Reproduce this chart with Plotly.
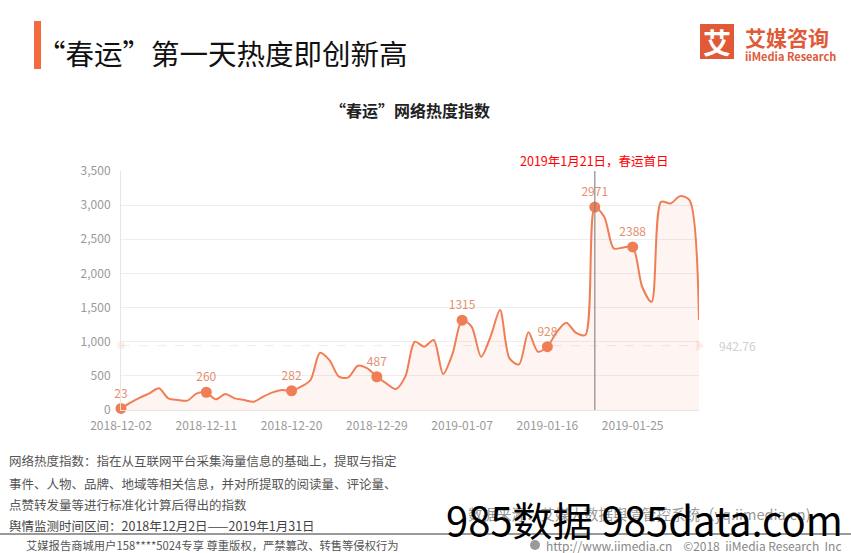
import plotly.graph_objects as go
import pandas as pd

# ---- data ----
dates = pd.date_range("2018-12-02", "2019-02-01", freq="D").strftime("%Y-%m-%d").tolist()
values = [23, 107, 180, 244, 317, 170, 146, 137, 244, 260,
          156, 234, 170, 146, 122, 195, 258, 292, 282, 341,
          439, 838, 731, 488, 478, 648, 609, 487, 390, 307,
          488, 1000, 927, 1025, 527, 829, 1315, 1220, 780, 1073,
          1463, 756, 668, 1137, 854, 928, 1146, 1278, 1132, 1098,
          2971, 2829, 2366, 2380, 2388, 1805, 1585, 3049, 3024, 3132,
          3073, 1317]
label_idx = [0, 9, 18, 27, 36, 45, 50, 54]
avg_value = 942.76
event_date = "2019-01-21"
event_text = "2019年1月21日，春运首日"
tick_dates = ["2018-12-02", "2018-12-11", "2018-12-20", "2018-12-29",
              "2019-01-07", "2019-01-16", "2019-01-25"]
y_ticks = [0, 500, 1000, 1500, 2000, 2500, 3000, 3500]

title_text = "“春运”第一天热度即创新高"
chart_title = "“春运”网络热度指数"
notes = ["网络热度指数：指在从互联网平台采集海量信息的基础上，提取与指定",
         "事件、人物、品牌、地域等相关信息，并对所提取的阅读量、评论量、",
         "点赞转发量等进行标准化计算后得出的指数",
         "舆情监测时间区间：2018年12月2日——2019年1月31日"]
footer_left = "艾媒报告商城用户158****5024专享 尊重版权，严禁篡改、转售等侵权行为"
footer_right = "http://www.iimedia.cn    ©2018  iiMedia Research  Inc"
source_text = "数据来源：艾媒大数据舆情管控系统（yq.iimedia.cn)"
watermark = "985数据 985data.com"

FONT = "Noto Sans CJK SC"
W, H = 851, 553
PX0, PX1, PY0, PY1 = 121, 699, 171, 410  # plot area in pixels


def px(x):
    return (x - PX0) / (PX1 - PX0)


def py(y):
    return (PY1 - y) / (PY1 - PY0)


def note(x, y, text, size, color, anchor="left"):
    fig.add_annotation(x=px(x), y=py(y), xref="paper", yref="paper", text=text,
                       showarrow=False, xanchor=anchor, yanchor="middle",
                       font=dict(family=FONT, size=size, color=color))


LINE = "#f07e55"

fig = go.Figure()
fig.add_trace(go.Scatter(
    x=dates, y=values, mode="lines",
    line=dict(color=LINE, width=2, shape="spline", smoothing=0.8),
    fill="tozeroy", fillcolor="rgba(247,130,95,0.09)",
    hoverinfo="skip", showlegend=False, cliponaxis=False))

fig.add_trace(go.Scatter(
    x=[dates[i] for i in label_idx], y=[values[i] for i in label_idx],
    mode="markers+text", text=[str(values[i]) for i in label_idx],
    textposition="top center",
    textfont=dict(family=FONT, size=12, color="#e3906f"),
    marker=dict(size=11, color=LINE),
    showlegend=False, cliponaxis=False))

# average mark line
fig.add_trace(go.Scatter(
    x=[dates[0], dates[-1]], y=[avg_value, avg_value], mode="lines",
    line=dict(color="rgba(240,126,85,0.18)", width=1, dash="dash"),
    hoverinfo="skip", showlegend=False))
fig.add_trace(go.Scatter(
    x=[dates[0]], y=[avg_value], mode="markers",
    marker=dict(size=8, color="rgba(240,126,85,0.12)"),
    hoverinfo="skip", showlegend=False, cliponaxis=False))
fig.add_trace(go.Scatter(
    x=[dates[-1]], y=[avg_value], mode="markers",
    marker=dict(size=10, color="rgba(240,126,85,0.15)", symbol="triangle-right"),
    hoverinfo="skip", showlegend=False, cliponaxis=False))

fig.add_annotation(x=px(717), y=avg_value, xref="paper", yref="y",
                   text=f"{avg_value:.2f}", showarrow=False, xanchor="left", yanchor="middle",
                   font=dict(family=FONT, size=12, color="#cfcfcf"))

# event line
fig.add_shape(type="line", x0=event_date, x1=event_date, y0=0, y1=3500,
              xref="x", yref="y", line=dict(color="rgba(130,130,130,0.75)", width=1.5))
fig.add_annotation(x=event_date, y=py(160), xref="x", yref="paper", text=event_text,
                   showarrow=False, xanchor="center", yanchor="middle",
                   font=dict(family=FONT, size=12.5, color="#ff0000"))

# page title and decorations
fig.add_shape(type="rect", xref="paper", yref="paper",
              x0=px(34), x1=px(41), y0=py(69), y1=py(21),
              fillcolor="#f26a3d", line=dict(width=0))
note(35, 52, title_text, 28.5, "#111111")
note(410, 110, "<b>" + chart_title + "</b>", 16, "#222222", anchor="center")

# logo
fig.add_shape(type="rect", xref="paper", yref="paper",
              x0=px(700), x1=px(734), y0=py(59), y1=py(24),
              fillcolor="#e05a38", line=dict(width=0))
note(717, 42, "<b>艾</b>", 28, "white", anchor="center")
note(743, 37, "<b>艾媒咨询</b>", 21, "#e05a38")
note(743, 56, "<b>iiMedia Research</b>", 11, "#e05a38")

# notes
for i, (t, yy) in enumerate(zip(notes, [460, 483, 504, 525])):
    note(7, yy, t, 12.5, "#555555" if i < 3 else "#444444")

fig.add_shape(type="line", xref="paper", yref="paper", x0=px(0), x1=px(851),
              y0=py(534), y1=py(534), line=dict(color="#777777", width=1.5))
note(24, 545, footer_left, 11.3, "#555555")
fig.add_shape(type="circle", xref="paper", yref="paper",
              x0=px(530), x1=px(540), y0=py(550), y1=py(540),
              fillcolor="#9a9a9a", line=dict(width=0))
note(544, 545, footer_right, 12, "#888888")
note(466, 513, source_text, 14.5, "#999999")
note(444, 519, watermark, 40, "#000000")

fig.update_layout(
    width=W, height=H,
    margin=dict(l=PX0, r=W - PX1, t=PY0, b=H - PY1, pad=0),
    paper_bgcolor="white", plot_bgcolor="white",
    font=dict(family=FONT),
    xaxis=dict(type="date", range=[dates[0], dates[-1]],
               tickvals=tick_dates, ticktext=tick_dates,
               showgrid=False, showline=True, linecolor="#e6e6e6", linewidth=1,
               ticks="", ticklabelstandoff=5,
               tickfont=dict(family=FONT, size=12, color="#999999"), zeroline=False),
    yaxis=dict(range=[0, 3500], tickvals=y_ticks, tickformat=",d",
               showgrid=True, gridcolor="#eeeeee", gridwidth=1,
               showline=True, linecolor="#e6e6e6", ticks="", ticklabelstandoff=7,
               tickfont=dict(family=FONT, size=12, color="#999999"), zeroline=False),
)

fig.write_html("out.html")
